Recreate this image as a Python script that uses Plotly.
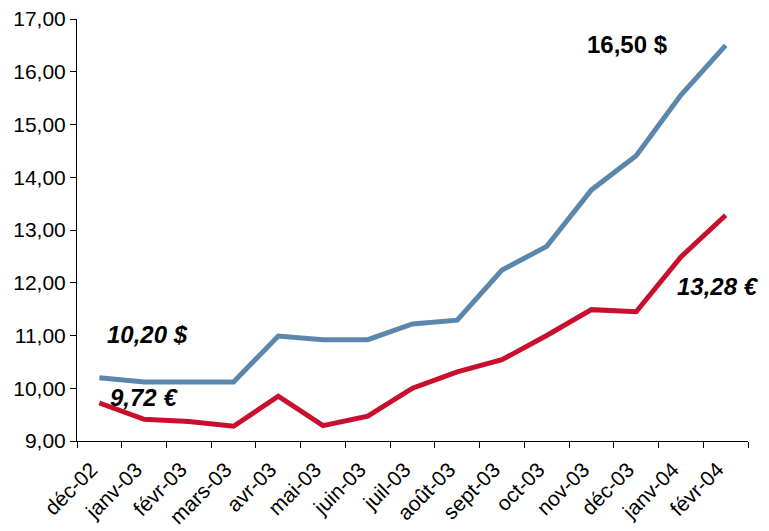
import plotly.graph_objects as go

months = ["déc-02", "janv-03", "févr-03", "mars-03", "avr-03", "mai-03", "juin-03",
          "juil-03", "août-03", "sept-03", "oct-03", "nov-03", "déc-03", "janv-04", "févr-04"]
usd = [10.20, 10.12, 10.12, 10.12, 10.99, 10.92, 10.92, 11.22, 11.29, 12.24, 12.69,
       13.76, 14.41, 15.56, 16.50]
eur = [9.72, 9.41, 9.37, 9.28, 9.85, 9.29, 9.47, 10.00, 10.31, 10.54, 11.00,
       11.49, 11.45, 12.49, 13.28]
y_ticks = [9, 10, 11, 12, 13, 14, 15, 16, 17]

blue = "rgb(92,135,173)"
red = "rgb(200,16,46)"

def fmt(v):
    return f"{v:.2f}".replace(".", ",")

fig = go.Figure()
fig.add_trace(go.Scatter(x=months, y=usd, mode="lines", line=dict(color=blue, width=5),
                         showlegend=False, hoverinfo="skip"))
fig.add_trace(go.Scatter(x=months, y=eur, mode="lines", line=dict(color=red, width=5),
                         showlegend=False, hoverinfo="skip"))

afont = dict(family="Liberation Sans, Arial, sans-serif", size=24, color="black")
annots = [
    (1.08, 11.01, f"<b><i>{fmt(usd[0])} $</i></b>"),
    (1.0, 9.83, f"<b><i>{fmt(eur[0])} €</i></b>"),
    (11.8, 16.51, f"<b>{fmt(usd[-1])} $</b>"),
    (13.84, 11.92, f"<b><i>{fmt(eur[-1])} €</i></b>"),
]
for x, y, t in annots:
    fig.add_annotation(x=x, y=y, text=t, showarrow=False, font=afont,
                       xanchor="center", yanchor="middle")

fig.update_layout(
    width=761, height=523,
    margin=dict(l=69, r=21, t=11, b=90),
    paper_bgcolor="white", plot_bgcolor="white",
    separators=", ",
    font=dict(family="Liberation Sans, Arial, sans-serif", size=21, color="black"),
    xaxis=dict(type="category", range=[-0.5, 14.5], tickson="boundaries",
               showline=True, linecolor="black", linewidth=1,
               ticks="outside", ticklen=6, tickcolor="black",
               tickangle=-45, showgrid=False, zeroline=False,
               tickfont=dict(size=21), automargin=False,
               ticklabelstandoff=7, ticklabelshift=-8,
               ticklabeloverflow="allow"),
    yaxis=dict(range=[9, 17], tickvals=y_ticks, tickformat=".2f",
               showline=True, linecolor="black", linewidth=1,
               ticks="outside", ticklen=6, tickcolor="black",
               showgrid=False, zeroline=False, tickfont=dict(size=21),
               automargin=False, ticklabeloverflow="allow"),
)

fig.write_html("out.html")
